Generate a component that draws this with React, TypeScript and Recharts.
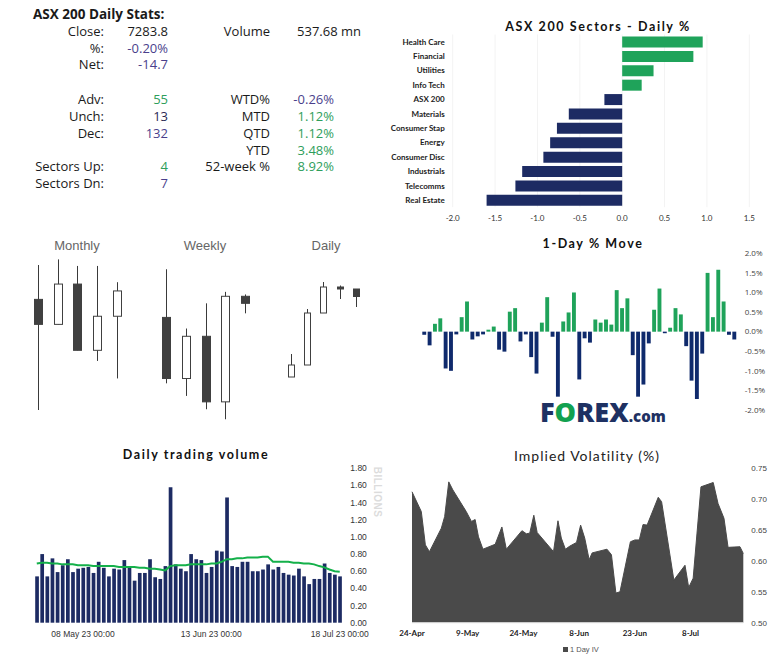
import React from 'react';
import {
  BarChart,
  Bar,
  XAxis,
  YAxis,
  Cell,
  ComposedChart,
  Line,
  AreaChart,
  Area,
  CartesianGrid,
} from 'recharts';

// ---------------- DATA ----------------
const SECTORS = [
  'Health Care',
  'Financial',
  'Utilities',
  'Info Tech',
  'ASX 200',
  'Materials',
  'Consumer Stap',
  'Energy',
  'Consumer Disc',
  'Industrials',
  'Telecomms',
  'Real Estate',
];
const SECTOR_PCT = [0.95, 0.84, 0.37, 0.23, -0.21, -0.63, -0.77, -0.85, -0.93, -1.18, -1.26, -1.6];
const SECTOR_TICKS = [-2, -1.5, -1, -0.5, 0, 0.5, 1, 1.5];

const MONTH_LABELS = ['Mar', 'Apr', 'May', 'Jun', 'Jul'];
const MONTH_OPEN = [7257, 7177, 7306, 7094, 7203];
const MONTH_HIGH = [7367, 7385, 7364, 7364, 7312];
const MONTH_LOW = [6903, 7177, 7094, 7060, 7004];
const MONTH_CLOSE = [7177, 7306, 7094, 7203, 7284];

const WEEK_LABELS = ['19 Jun', '26 Jun', '3 Jul', '10 Jul', '17 Jul'];
const WEEK_OPEN = [7246, 7081, 7195, 7018, 7303];
const WEEK_HIGH = [7376, 7216, 7284, 7315, 7308];
const WEEK_LOW = [7068, 7034, 6998, 6971, 7257];
const WEEK_CLOSE = [7081, 7195, 7018, 7303, 7284];

const DAY_LABELS = ['12 Jul', '13 Jul', '14 Jul', '17 Jul', '18 Jul'];
const DAY_OPEN = [7123, 7147, 7251, 7303, 7299];
const DAY_HIGH = [7169, 7259, 7313, 7306, 7299];
const DAY_LOW = [7123, 7147, 7251, 7279, 7263];
const DAY_CLOSE = [7147, 7251, 7303, 7299, 7284];

const TRADING_DAYS = [
  '24 Apr 23', '26 Apr 23', '27 Apr 23', '28 Apr 23', '01 May 23', '02 May 23', '03 May 23', '04 May 23',
  '05 May 23', '08 May 23', '09 May 23', '10 May 23', '11 May 23', '12 May 23', '15 May 23', '16 May 23',
  '17 May 23', '18 May 23', '19 May 23', '22 May 23', '23 May 23', '24 May 23', '25 May 23', '26 May 23',
  '29 May 23', '30 May 23', '31 May 23', '01 Jun 23', '02 Jun 23', '05 Jun 23', '06 Jun 23', '07 Jun 23',
  '08 Jun 23', '09 Jun 23', '13 Jun 23', '14 Jun 23', '15 Jun 23', '16 Jun 23', '19 Jun 23', '20 Jun 23',
  '21 Jun 23', '22 Jun 23', '23 Jun 23', '26 Jun 23', '27 Jun 23', '28 Jun 23', '29 Jun 23', '30 Jun 23',
  '03 Jul 23', '04 Jul 23', '05 Jul 23', '06 Jul 23', '07 Jul 23', '10 Jul 23', '11 Jul 23', '12 Jul 23',
  '13 Jul 23', '14 Jul 23', '17 Jul 23', '18 Jul 23',
];

const DAILY_MOVE = [
  -0.08, -0.35, 0.2, 0.34, -0.94, -1.0, -0.07, 0.37, 0.77, -0.2,
  -0.12, -0.07, 0.05, 0.13, -0.46, -0.51, 0.51, 0.6, -0.25, -0.07,
  -0.65, -1.07, 0.23, 0.88, -0.13, -1.66, 0.26, 0.49, 1.0, -1.22,
  -0.17, -0.28, 0.31, 0.23, 0.31, 0.18, 1.06, 0.6, 0.85, -0.6,
  -1.66, -1.35, -0.3, 0.56, 1.1, -0.04, 0.1, 0.6, 0.44, -0.37,
  -1.25, -1.72, -0.56, 1.5, 0.37, 1.58, 0.77, -0.08, -0.2,
];
const MOVE_TICKS = [-2, -1.5, -1, -0.5, 0, 0.5, 1, 1.5, 2];

const VOLUME = [
  0.54, 0.8, 0.54, 0.75, 0.59, 0.67, 0.74, 0.59, 0.63, 0.64,
  0.65, 0.58, 0.71, 0.64, 0.54, 0.63, 0.62, 0.73, 0.64, 0.49,
  0.58, 0.58, 0.74, 0.53, 0.51, 0.66, 1.58, 0.68, 0.63, 0.6,
  0.8, 0.74, 0.73, 0.58, 0.65, 0.84, 0.83, 1.46, 0.66, 0.65,
  0.71, 0.71, 0.6, 0.6, 0.62, 0.68, 0.62, 0.65, 0.58, 0.56,
  0.55, 0.63, 0.54, 0.45, 0.51, 0.51, 0.69, 0.58, 0.56, 0.54,
];
const VOLUME_AVG = [
  0.69, 0.7, 0.7, 0.69, 0.69, 0.68, 0.68, 0.68, 0.67, 0.67,
  0.67, 0.66, 0.66, 0.66, 0.66, 0.66, 0.65, 0.65, 0.65, 0.65,
  0.64, 0.64, 0.63, 0.63, 0.62, 0.61, 0.66, 0.67, 0.67, 0.67,
  0.68, 0.68, 0.68, 0.68, 0.69, 0.69, 0.71, 0.74, 0.74, 0.75,
  0.75, 0.76, 0.76, 0.76, 0.77, 0.77, 0.71, 0.71, 0.71, 0.71,
  0.7, 0.7, 0.69, 0.69, 0.68, 0.66, 0.645, 0.62, 0.6, 0.595,
];
const VOLUME_TICKS = [0, 0.2, 0.4, 0.6, 0.8, 1.0, 1.2, 1.4, 1.6, 1.8];
const VOLUME_DATE_TICKS = ['08 May 23', '13 Jun 23', '18 Jul 23'];

// days since 24-Apr
const IV_DAY = [
  0, 2.5, 3.6, 4.7, 7.9, 8.8, 9.9, 11, 14.6, 16, 17, 17.9, 19.1, 22.4, 24.2, 25.4, 29.6, 30.8, 31.7, 32.8,
  33.7, 38.1, 39.3, 40.2, 41.3, 42.5, 44.3, 45.4, 46.5, 47.7, 48.5, 52.5, 53.7, 54.9, 56, 58.8, 60, 61.2,
  62.2, 63.3, 66.3, 67.2, 70.5, 73.5, 74.5, 75.7, 77.8, 81.1, 82.4, 84, 85.1, 88.3, 89.2,
];
const IV_VALUE = [
  0.712, 0.68, 0.626, 0.615, 0.653, 0.672, 0.728, 0.715, 0.68, 0.664, 0.667, 0.639, 0.619, 0.627, 0.655,
  0.619, 0.649, 0.644, 0.645, 0.674, 0.646, 0.615, 0.665, 0.637, 0.619, 0.624, 0.63, 0.658, 0.637, 0.602,
  0.613, 0.619, 0.61, 0.548, 0.55, 0.631, 0.634, 0.634, 0.659, 0.658, 0.703, 0.696, 0.569, 0.593, 0.557,
  0.572, 0.72, 0.727, 0.693, 0.669, 0.622, 0.623, 0.612,
];
const IV_TICK_DAYS = [0, 15, 30, 45, 60, 75];
const IV_TICK_LABELS = ['24-Apr', '9-May', '24-May', '8-Jun', '23-Jun', '8-Jul'];
const IV_TICKS = [0.5, 0.55, 0.6, 0.65, 0.7, 0.75];

// ---------------- COLORS ----------------
const GREEN = '#1fa35a';
const NAVY = '#1d2b63';
const MOVE_NAVY = '#0f2a6c';
const POS = '#2e9e5b';
const NEG = '#4a3f8c';

// ---------------- HELPERS ----------------
const sectorData = SECTORS.map((name, i) => ({ name, value: SECTOR_PCT[i] }));
const moveData = DAILY_MOVE.map((v, i) => ({ date: TRADING_DAYS[i + 1], value: v }));
const volumeData = TRADING_DAYS.map((date, i) => ({ date, vol: VOLUME[i], avg: VOLUME_AVG[i] }));
const ivData = IV_DAY.map((d, i) => ({ day: d, iv: IV_VALUE[i] }));

function candles(labels: string[], o: number[], h: number[], l: number[], c: number[]) {
  return labels.map((label, i) => ({ label, open: o[i], high: h[i], low: l[i], close: c[i], range: [l[i], h[i]] }));
}

const Candle = (props: any) => {
  const { x, y, width, height, payload } = props;
  if (x == null || y == null) return null;
  const top = Math.min(y, y + height);
  const h = Math.abs(height);
  const k = h / (payload.high - payload.low);
  const cx = Math.round(x + width / 2) + 0.5;
  const yo = top + (payload.high - payload.open) * k;
  const yc = top + (payload.high - payload.close) * k;
  const bodyTop = Math.min(yo, yc);
  const bodyH = Math.max(Math.abs(yo - yc), 1.5);
  const down = payload.close < payload.open;
  return (
    <g>
      <line x1={cx} x2={cx} y1={top} y2={top + h} stroke="#3a3a3a" strokeWidth={1} />
      <rect
        x={Math.round(x) + 0.5}
        y={bodyTop}
        width={Math.round(width)}
        height={bodyH}
        fill={down ? '#404040' : '#ffffff'}
        stroke="#404040"
        strokeWidth={1}
      />
    </g>
  );
};

function CandlePanel({ data, domain, left, width, bodyW }: any) {
  return (
    <div style={{ position: 'absolute', left, top: 250 }}>
      <ComposedChart width={width} height={180} data={data} margin={{ top: 0, right: 0, bottom: 0, left: 0 }}>
        <XAxis dataKey="label" hide />
        <YAxis hide domain={domain} allowDataOverflow />
        <Bar dataKey="range" barSize={bodyW} shape={<Candle />} isAnimationActive={false} />
      </ComposedChart>
    </div>
  );
}

const SectorTick = ({ x, y, payload }: any) => (
  <text
    x={x}
    y={y}
    dy={3}
    textAnchor="end"
    fill="#222"
    fontSize={8}
    fontWeight={700}
    fontFamily="Lato, sans-serif">
    {payload.value}
  </text>
);

function Txt({ x, y, children, color = '#1a1a1a', size = 13, bold = false, align = 'right', font }: any) {
  const style: any = {
    position: 'absolute',
    top: y - 7,
    lineHeight: '14px',
    height: 14,
    fontSize: size,
    fontWeight: bold ? 700 : 400,
    color,
    whiteSpace: 'nowrap',
    fontFamily: font || '"Open Sans", sans-serif',
  };
  if (align === 'right') style.right = 781 - x;
  else style.left = x;
  return <div style={style}>{children}</div>;
}

const chartTitle: any = {
  position: 'absolute',
  fontFamily: 'Lato, "Open Sans", sans-serif',
  fontWeight: 700,
  fontSize: 12.5,
  letterSpacing: 1.6,
  color: '#111',
  whiteSpace: 'nowrap',
  transform: 'translate(-50%, -50%)',
};

const candleTitle: any = {
  position: 'absolute',
  top: 245,
  transform: 'translate(-50%,-50%)',
  font: '13px "Liberation Sans", Arial',
  color: '#666',
};

// ---------------- APP ----------------
export default function App() {
  return (
    <div
      style={{
        position: 'absolute',
        left: 0,
        top: 0,
        width: 781,
        height: 659,
        background: '#fff',
        overflow: 'hidden',
      }}>
      {/* STATS TABLE */}
      <Txt x={33} y={14} bold align="left" size={13.5}>
        ASX 200 Daily Stats:
      </Txt>
      <Txt x={104} y={31}>Close:</Txt>
      <Txt x={168} y={31}>7283.8</Txt>
      <Txt x={104} y={48}>%:</Txt>
      <Txt x={168} y={48} color={NEG}>-0.20%</Txt>
      <Txt x={104} y={64}>Net:</Txt>
      <Txt x={168} y={64} color={NEG}>-14.7</Txt>
      <Txt x={270} y={31}>Volume</Txt>
      <Txt x={361} y={31}>537.68 mn</Txt>

      <Txt x={104} y={99}>Adv:</Txt>
      <Txt x={168} y={99} color={POS}>55</Txt>
      <Txt x={104} y={116}>Unch:</Txt>
      <Txt x={168} y={116} color="#2b2a55">13</Txt>
      <Txt x={104} y={133}>Dec:</Txt>
      <Txt x={168} y={133} color={NEG}>132</Txt>
      <Txt x={104} y={166}>Sectors Up:</Txt>
      <Txt x={168} y={166} color={POS}>4</Txt>
      <Txt x={104} y={183}>Sectors Dn:</Txt>
      <Txt x={168} y={183} color={NEG}>7</Txt>

      <Txt x={270} y={99}>WTD%</Txt>
      <Txt x={334} y={99} color={NEG}>-0.26%</Txt>
      <Txt x={270} y={116}>MTD</Txt>
      <Txt x={334} y={116} color={POS}>1.12%</Txt>
      <Txt x={270} y={133}>QTD</Txt>
      <Txt x={334} y={133} color={POS}>1.12%</Txt>
      <Txt x={270} y={150}>YTD</Txt>
      <Txt x={334} y={150} color={POS}>3.48%</Txt>
      <Txt x={270} y={166}>52-week %</Txt>
      <Txt x={334} y={166} color={POS}>8.92%</Txt>

      {/* SECTORS */}
      <div style={{ ...chartTitle, left: 598, top: 26 }}>ASX 200 Sectors - Daily %</div>
      <div style={{ position: 'absolute', left: 370, top: 20 }}>
        <BarChart
          width={400}
          height={215}
          data={sectorData}
          layout="vertical"
          margin={{ top: 14.5, right: 20.7, bottom: 7.8, left: 0 }}>
          <CartesianGrid horizontal={false} stroke="#f3f3f3" />
          <XAxis
            type="number"
            domain={[-2, 1.5]}
            ticks={SECTOR_TICKS}
            tickFormatter={(v: number) => v.toFixed(1)}
            axisLine={false}
            tickLine={false}
            height={20}
            tick={{ fill: '#333', fontSize: 8, fontFamily: 'Lato, sans-serif' }}
          />
          <YAxis
            type="category"
            dataKey="name"
            width={82.7}
            axisLine={false}
            tickLine={false}
            interval={0}
            tick={<SectorTick />}
          />
          <Bar dataKey="value" barSize={11} isAnimationActive={false}>
            {sectorData.map((d, i) => (
              <Cell key={i} fill={d.value >= 0 ? GREEN : NAVY} />
            ))}
          </Bar>
        </BarChart>
      </div>

      {/* CANDLES */}
      <div style={{ ...candleTitle, left: 77 }}>Monthly</div>
      <div style={{ ...candleTitle, left: 205 }}>Weekly</div>
      <div style={{ ...candleTitle, left: 326 }}>Daily</div>
      <CandlePanel
        data={candles(MONTH_LABELS, MONTH_OPEN, MONTH_HIGH, MONTH_LOW, MONTH_CLOSE)}
        domain={[6839, 7415]}
        left={27.5}
        width={98.5}
        bodyW={8}
      />
      <CandlePanel
        data={candles(WEEK_LABELS, WEEK_OPEN, WEEK_HIGH, WEEK_LOW, WEEK_CLOSE)}
        domain={[6942, 7428]}
        left={155.8}
        width={98.75}
        bodyW={8}
      />
      <CandlePanel
        data={candles(DAY_LABELS, DAY_OPEN, DAY_HIGH, DAY_LOW, DAY_CLOSE)}
        domain={[7017, 7377]}
        left={283.2}
        width={81}
        bodyW={6}
      />

      {/* 1-DAY MOVE */}
      <div style={{ ...chartTitle, left: 593, top: 243 }}>1-Day % Move</div>
      <div style={{ position: 'absolute', left: 400, top: 235 }}>
        <BarChart
          width={381}
          height={190}
          data={moveData}
          margin={{ top: 18.3, right: 0, bottom: 15, left: 21.3 }}>
          <XAxis dataKey="date" hide />
          <YAxis
            orientation="right"
            domain={[-2, 2]}
            ticks={MOVE_TICKS}
            width={44.3}
            axisLine={false}
            tickLine={false}
            tickFormatter={(v: number) => `${v.toFixed(1)}%`}
            tick={{ fill: '#444', fontSize: 8, fontFamily: '"Open Sans", sans-serif', textAnchor: 'start' }}
          />
          <Bar dataKey="value" barSize={3.9} isAnimationActive={false}>
            {moveData.map((d, i) => (
              <Cell key={i} fill={d.value >= 0 ? GREEN : MOVE_NAVY} />
            ))}
          </Bar>
        </BarChart>
      </div>
      <div
        style={{
          position: 'absolute',
          left: 540,
          top: 396,
          fontFamily: '"Open Sans", sans-serif',
          fontWeight: 800,
          fontSize: 27,
          lineHeight: '32px',
          color: '#1e3162',
          whiteSpace: 'nowrap',
        }}>
        F<span style={{ color: '#12a150' }}>O</span>REX<span style={{ fontSize: 15 }}>.com</span>
      </div>

      {/* VOLUME */}
      <div style={{ ...chartTitle, left: 196, top: 454 }}>Daily trading volume</div>
      <div style={{ position: 'absolute', left: 0, top: 445 }}>
        <ComposedChart
          width={400}
          height={200}
          data={volumeData}
          margin={{ top: 23.3, right: 0, bottom: 0, left: 34.2 }}>
          <XAxis
            dataKey="date"
            ticks={VOLUME_DATE_TICKS}
            interval={0}
            height={22.3}
            axisLine={false}
            tickLine={false}
            tickFormatter={(v: string) => `${v} 00:00`}
            tick={{ fill: '#333', fontSize: 8.5, fontFamily: '"Liberation Sans", Arial' }}
          />
          <YAxis
            orientation="right"
            domain={[0, 1.8]}
            ticks={VOLUME_TICKS}
            width={57.7}
            axisLine={false}
            tickLine={false}
            tickFormatter={(v: number) => v.toFixed(2)}
            tick={{ fill: '#333', fontSize: 8.5, fontFamily: '"Liberation Sans", Arial', textAnchor: 'start' }}
          />
          <Bar dataKey="vol" fill={NAVY} barSize={3.7} isAnimationActive={false} />
          <Line type="linear" dataKey="avg" stroke="#14b04a" strokeWidth={2} dot={false} isAnimationActive={false} />
        </ComposedChart>
      </div>
      <div
        style={{
          position: 'absolute',
          left: 377,
          top: 492,
          transform: 'translate(-50%,-50%) rotate(90deg)',
          font: 'bold 10px "Liberation Sans", Arial',
          color: '#dcdcdc',
          letterSpacing: 0.5,
        }}>
        BILLIONS
      </div>

      {/* IMPLIED VOLATILITY */}
      <div
        style={{
          position: 'absolute',
          left: 587,
          top: 455,
          transform: 'translate(-50%,-50%)',
          fontFamily: 'Lato, sans-serif',
          fontSize: 14,
          letterSpacing: 1,
          color: '#222',
          whiteSpace: 'nowrap',
        }}>
        Implied Volatility (%)
      </div>
      <div style={{ position: 'absolute', left: 380, top: 445 }}>
        <AreaChart width={401} height={214} data={ivData} margin={{ top: 23.3, right: 0, bottom: 16.3, left: 32 }}>
          <XAxis
            dataKey="day"
            type="number"
            domain={[0, 89.2]}
            ticks={IV_TICK_DAYS}
            interval={0}
            height={20}
            axisLine={{ stroke: '#d9d9d9' }}
            tickLine={false}
            tickFormatter={(v: number) => IV_TICK_LABELS[IV_TICK_DAYS.indexOf(v)]}
            tick={{ fill: '#222', fontSize: 8, fontWeight: 700, fontFamily: 'Lato, sans-serif' }}
          />
          <YAxis
            orientation="right"
            domain={[0.5, 0.75]}
            ticks={IV_TICKS}
            width={37.7}
            axisLine={false}
            tickLine={false}
            allowDataOverflow
            tickFormatter={(v: number) => v.toFixed(2)}
            tick={{ fill: '#444', fontSize: 8, fontFamily: '"Liberation Sans", Arial', textAnchor: 'start' }}
          />
          <Area
            type="linear"
            dataKey="iv"
            stroke="#4a4a4a"
            strokeWidth={1}
            fill="#4a4a4a"
            fillOpacity={1}
            isAnimationActive={false}
          />
        </AreaChart>
      </div>
      <div
        style={{
          position: 'absolute',
          left: 563,
          top: 645,
          font: '7.5px "Liberation Sans", Arial',
          color: '#555',
          lineHeight: '10px',
          whiteSpace: 'nowrap',
        }}>
        <span style={{ display: 'inline-block', width: 5, height: 5, background: '#4a4a4a', marginRight: 2 }} />1 Day IV
      </div>
    </div>
  );
}
